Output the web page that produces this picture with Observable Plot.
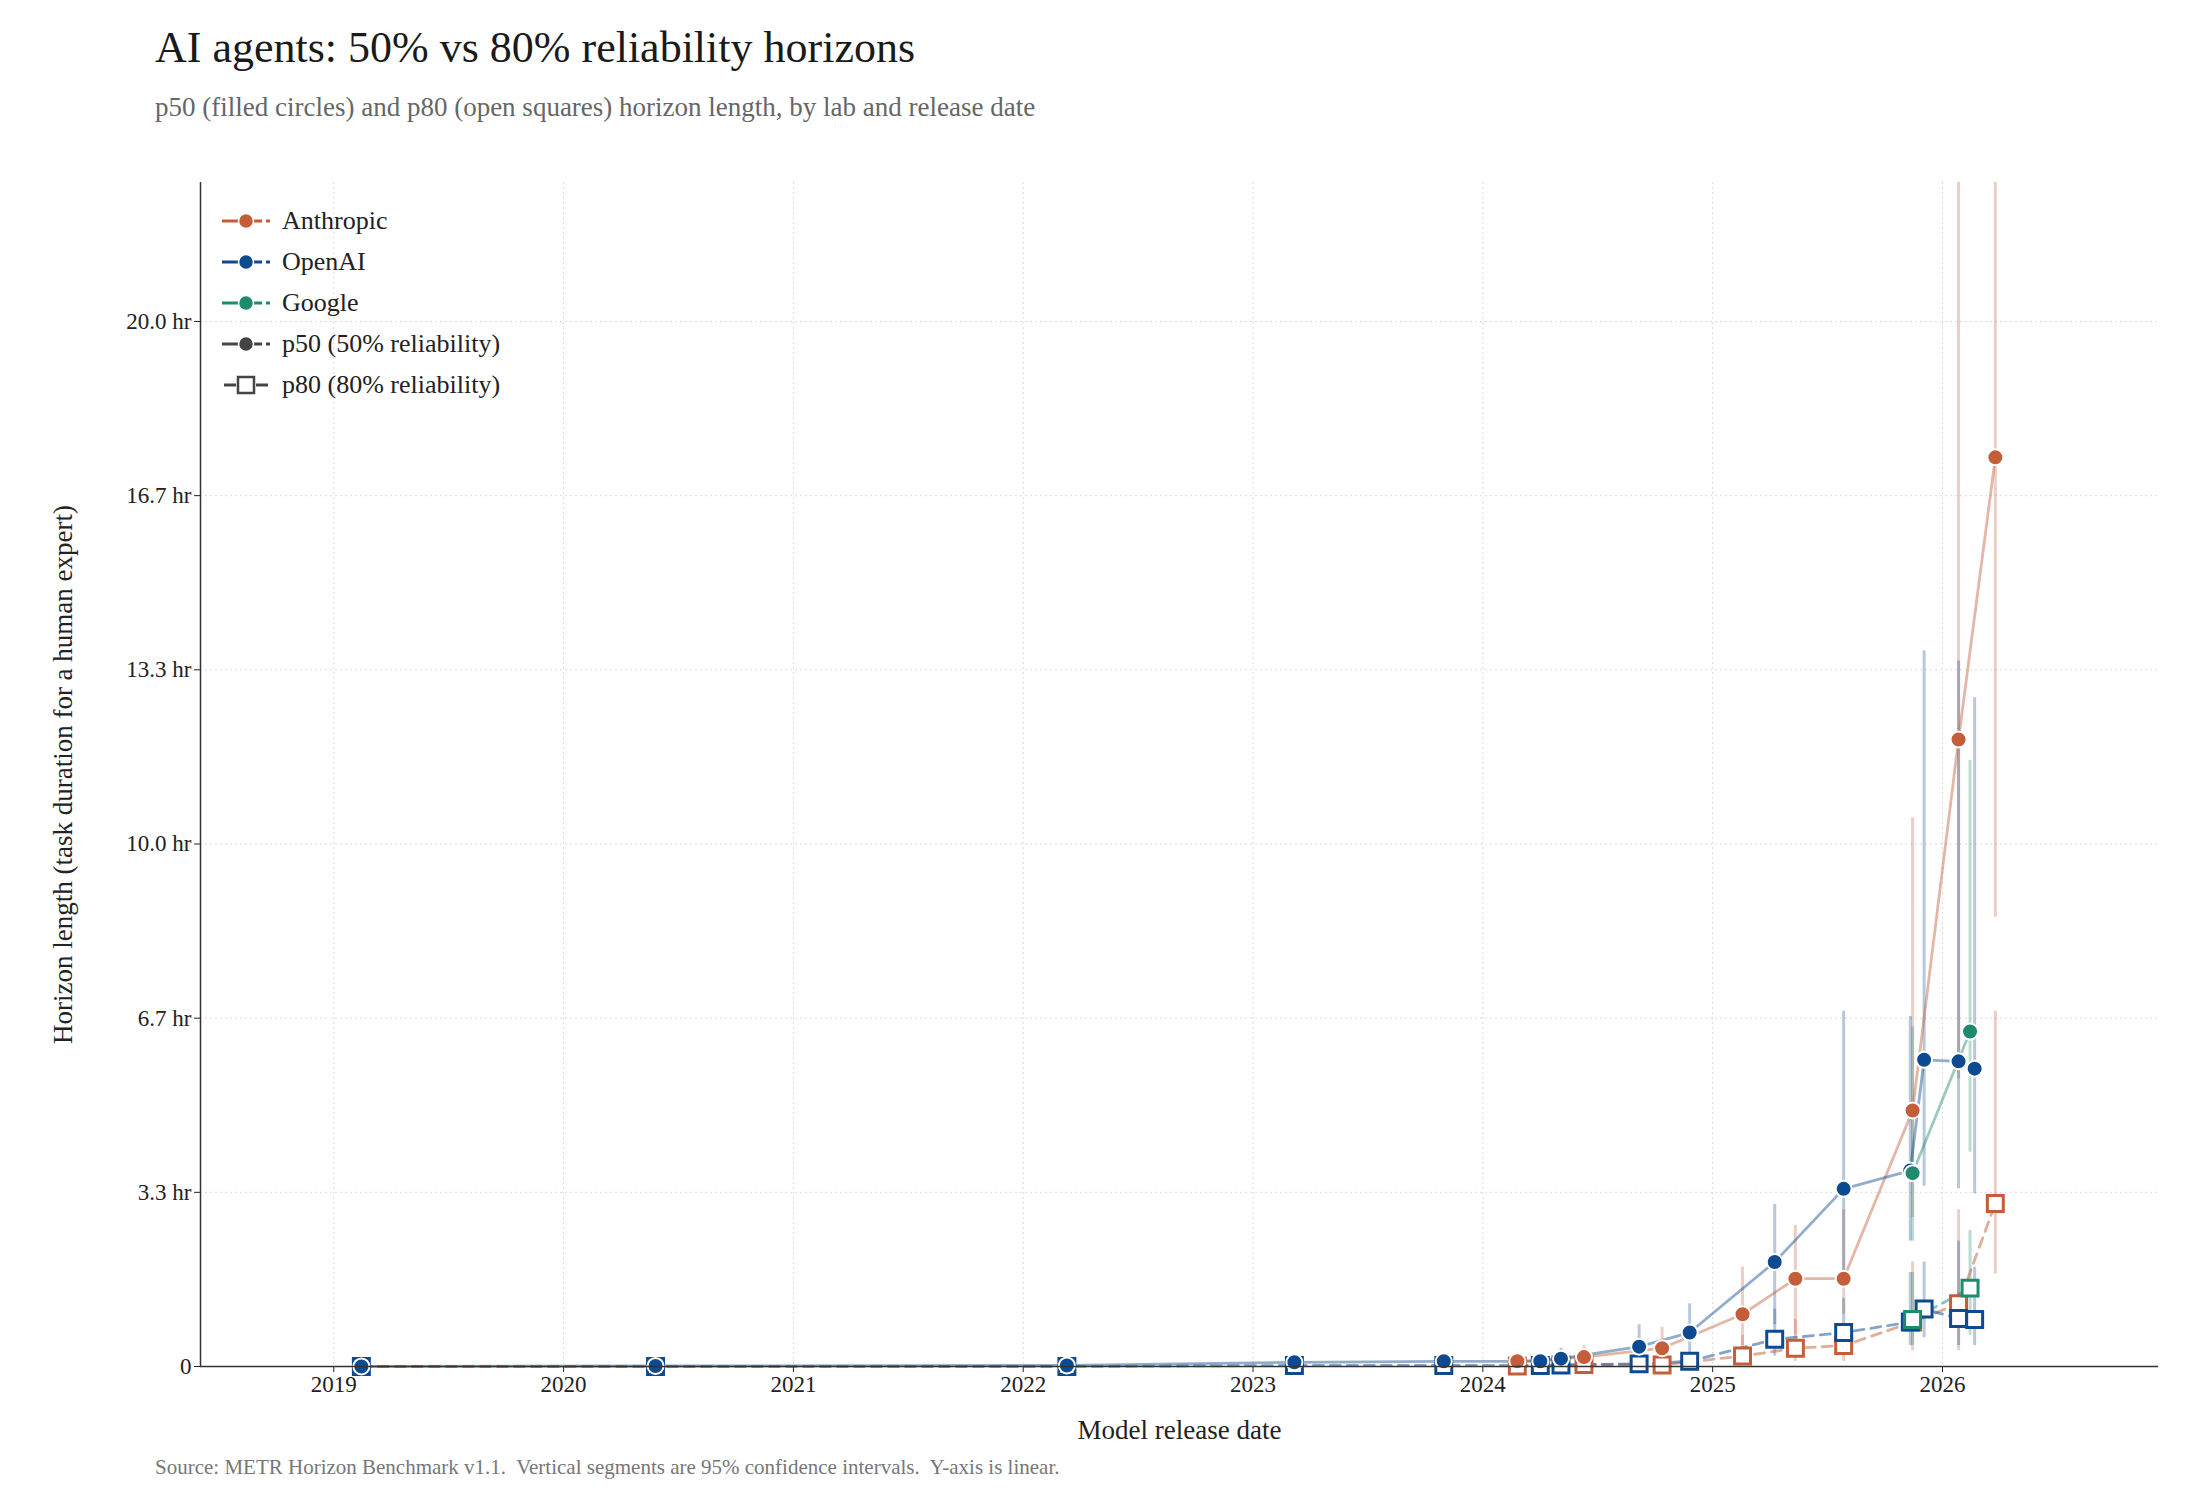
<!DOCTYPE html>
<html><head><meta charset="utf-8">
<script src="https://cdn.jsdelivr.net/npm/d3@7"></script>
<script src="https://cdn.jsdelivr.net/npm/@observablehq/plot@0.6"></script>
<style>
body{margin:0;background:#fff;font-family:"Liberation Serif","DejaVu Serif",serif;}
#wrap{position:relative;width:2200px;height:1500px;}
#title{position:absolute;left:155px;top:22px;font-size:44px;color:#1a1a1a;}
#sub{position:absolute;left:155px;top:92px;font-size:27px;color:#666;}
#chart{position:absolute;left:0;top:150px;}
#src{position:absolute;left:155px;top:1455px;font-size:21px;color:#777;}
#legend{position:absolute;left:222px;top:200px;font-size:26px;color:#222;}
#legend div{height:41px;display:flex;align-items:center;}
#legend svg{margin-right:10px;}
</style></head><body>
<div id="wrap">
<div id="title">AI agents: 50% vs 80% reliability horizons</div>
<div id="sub">p50 (filled circles) and p80 (open squares) horizon length, by lab and release date</div>
<div id="chart"></div>
<div id="legend"></div>
<div id="src">Source: METR Horizon Benchmark v1.1.&nbsp; Vertical segments are 95% confidence intervals.&nbsp; Y-axis is linear.</div>
</div>
<script>
const labs = ["Anthropic","OpenAI","Google"];
const colors = ["#c45d3a","#0d4a8f","#1e8a6e"];

// Anthropic
const anthDates = [2024.15,2024.44,2024.78,2025.13,2025.36,2025.57,2025.87,2026.07,2026.23];
const anthP50   = [0.10,0.18,0.35,1.0,1.68,1.68,4.9,12.0,17.4];
const anthP50lo = [0.04,0.08,0.15,0.4,0.6,1.0,2.85,5.5,8.6];
const anthP50hi = [0.25,0.40,0.75,1.9,2.7,3.0,10.5,40,40];
const anthP80   = [0.01,0.04,0.03,0.20,0.35,0.40,0.85,1.2,3.12];
const anthP80lo = [0.0,0.01,0.01,0.05,0.1,0.1,0.3,0.3,1.77];
const anthP80hi = [0.05,0.10,0.12,0.6,0.9,0.8,2.0,3.0,6.8];

// OpenAI
const oaiDates = [2019.12,2020.40,2022.19,2023.18,2023.83,2024.25,2024.34,2024.68,2024.90,2025.27,2025.57,2025.86,2025.92,2026.07,2026.14];
const oaiP50   = [0.001,0.01,0.02,0.08,0.10,0.10,0.15,0.38,0.65,2.0,3.4,3.75,5.87,5.84,5.7];
const oaiP50lo = [0.0,0.0,0.01,0.03,0.04,0.04,0.06,0.15,0.3,0.8,1.8,2.4,3.45,3.4,3.3];
const oaiP50hi = [0.005,0.03,0.05,0.2,0.25,0.25,0.35,0.8,1.2,3.1,6.8,6.7,13.7,13.5,12.8];
const oaiP80   = [0.0,0.0,0.0,0.02,0.02,0.02,0.03,0.05,0.10,0.52,0.65,0.85,1.1,0.92,0.9];
const oaiP80lo = [0.0,0.0,0.0,0.0,0.0,0.0,0.01,0.01,0.03,0.2,0.3,0.4,0.55,0.4,0.4];
const oaiP80hi = [0.002,0.005,0.01,0.06,0.06,0.06,0.1,0.15,0.3,1.1,1.3,1.8,2.0,2.4,1.9];

// Google
const gooDates = [2025.87,2026.12];
const gooP50   = [3.7,6.41];
const gooP50lo = [2.4,4.1];
const gooP50hi = [6.5,11.6];
const gooP80   = [0.9,1.5];
const gooP80lo = [0.4,0.6];
const gooP80hi = [1.8,2.6];

const yTicks = [0,10/3,20/3,10,40/3,50/3,20];
const xTicks = [2019,2020,2021,2022,2023,2024,2025,2026];

const sets = [
  [anthDates,anthP50,anthP50lo,anthP50hi,anthP80,anthP80lo,anthP80hi],
  [oaiDates,oaiP50,oaiP50lo,oaiP50hi,oaiP80,oaiP80lo,oaiP80hi],
  [gooDates,gooP50,gooP50lo,gooP50hi,gooP80,gooP80lo,gooP80hi]
];
const rows = [];
sets.forEach((s,i)=>s[0].forEach((d,j)=>rows.push({lab:labs[i],date:d,p50:s[1][j],p50lo:s[2][j],p50hi:s[3][j],p80:s[4][j],p80lo:s[5][j],p80hi:s[6][j]})));

const yFmt = d=>d===0?"0":d.toFixed(1)+" hr";
const chart = Plot.plot({
  width:2200, height:1310,
  marginLeft:200, marginRight:42, marginTop:32, marginBottom:94,
  style:{fontFamily:"Liberation Serif, DejaVu Serif, serif", fontSize:"23px", color:"#222", background:"transparent"},
  x:{domain:[2018.42,2026.94], ticks:xTicks, tickFormat:d=>String(d), label:"Model release date", labelAnchor:"center", labelOffset:72, labelArrow:"none", tickSize:6},
  y:{domain:[0,22.66], ticks:yTicks, tickFormat:yFmt, label:"Horizon length (task duration for a human expert)", labelAnchor:"center", labelOffset:148, labelArrow:"none", tickSize:6},
  color:{domain:labs, range:colors},
  marks:[
    Plot.gridX(xTicks,{stroke:"#ccc",strokeDasharray:"2,3",strokeOpacity:0.7}),
    Plot.gridY(yTicks.slice(1),{stroke:"#ccc",strokeDasharray:"2,3",strokeOpacity:0.7}),
    Plot.ruleX(rows,{x:"date",y1:"p50lo",y2:"p50hi",stroke:"lab",strokeWidth:3,strokeOpacity:0.3,clip:true}),
    Plot.ruleX(rows,{x:"date",y1:"p80lo",y2:"p80hi",stroke:"lab",strokeWidth:3,strokeOpacity:0.3,clip:true}),
    Plot.lineY(rows,{x:"date",y:"p80",z:"lab",stroke:"lab",strokeWidth:2.8,strokeOpacity:0.5,strokeDasharray:"10,7"}),
    Plot.lineY(rows,{x:"date",y:"p50",z:"lab",stroke:"lab",strokeWidth:2.8,strokeOpacity:0.45}),
    Plot.dot(rows,{x:"date",y:"p80",symbol:"square",r:9,fill:"white",stroke:"lab",strokeWidth:3}),
    Plot.dot(rows,{x:"date",y:"p50",r:8,fill:"lab",stroke:"white",strokeWidth:2}),
    Plot.ruleY([0],{stroke:"#333",strokeWidth:1.5}),
    Plot.ruleX([2018.42],{stroke:"#333",strokeWidth:1.5})
  ]
});
chart.querySelectorAll('g[aria-label="x-axis label"] text, g[aria-label="y-axis label"] text').forEach(t=>t.style.fontSize="27px");
document.getElementById("chart").appendChild(chart);

const leg = document.getElementById("legend");
const items = labs.map((l,i)=>({t:l,c:colors[i],sq:false})).concat([{t:"p50 (50% reliability)",c:"#444",sq:false},{t:"p80 (80% reliability)",c:"#444",sq:true}]);
items.forEach(it=>{
  const d=document.createElement("div");
  const mk = it.sq ? `<line x1="2" x2="14" y1="12" y2="12" stroke="${it.c}" stroke-width="3"/><line x1="34" x2="46" y1="12" y2="12" stroke="${it.c}" stroke-width="3"/><rect x="16" y="4" width="16" height="16" fill="white" stroke="${it.c}" stroke-width="2.5"/>`
    : `<line x1="0" x2="48" y1="12" y2="12" stroke="${it.c}" stroke-width="3" stroke-dasharray="18,4"/><circle cx="24" cy="12" r="7.5" fill="${it.c}" stroke="white" stroke-width="1.5"/>`;
  d.innerHTML=`<svg width="50" height="24">${mk}</svg><span>${it.t}</span>`;
  leg.appendChild(d);
});
</script>
</body></html>
